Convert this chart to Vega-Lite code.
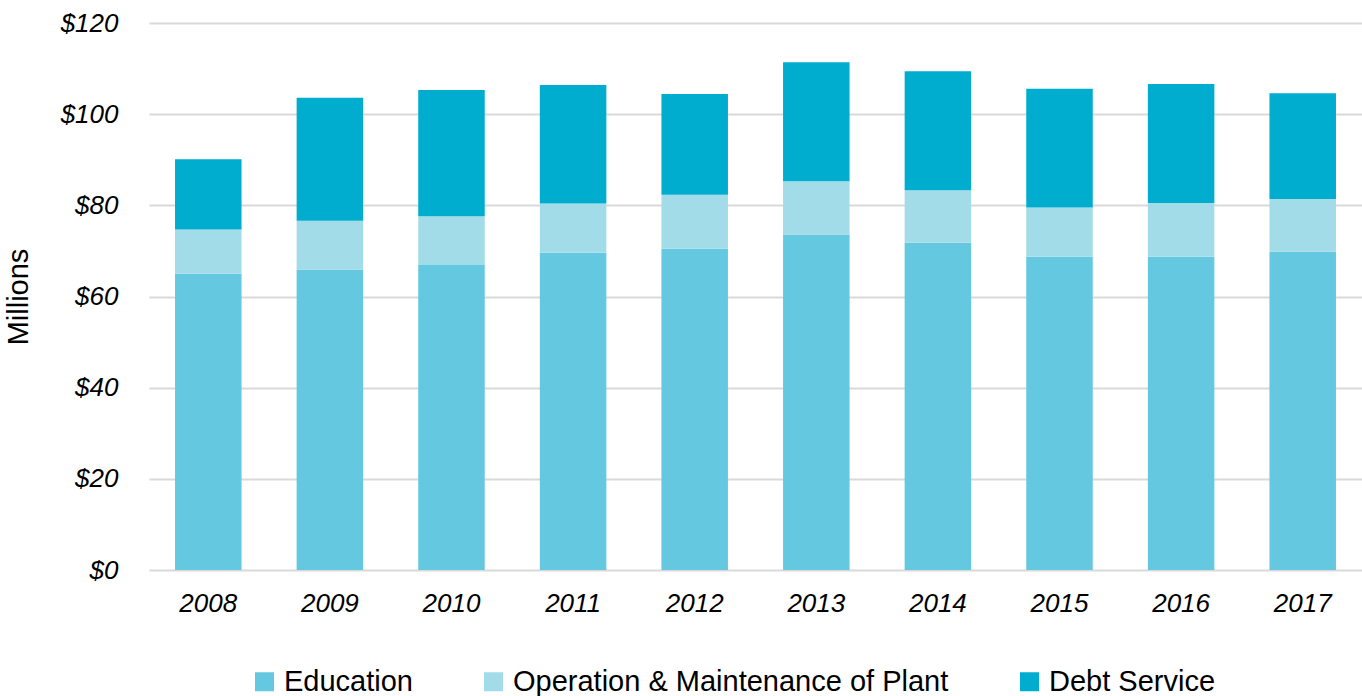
{
  "$schema": "https://vega.github.io/schema/vega-lite/v6.json",
  "width": 1213,
  "height": 547,
  "autosize": {"type": "none"},
  "padding": {"left": 149, "top": 23, "right": 0, "bottom": 126},
  "background": "white",
  "config": {
    "view": {"stroke": null},
    "font": "Liberation Sans"
  },
  "data": {
    "values": [
      {"year": "2008", "category": "Education", "k": 1, "value": 65.0},
      {"year": "2008", "category": "Operation & Maintenance of Plant", "k": 2, "value": 9.7},
      {"year": "2008", "category": "Debt Service", "k": 3, "value": 15.4},
      {"year": "2009", "category": "Education", "k": 1, "value": 65.9},
      {"year": "2009", "category": "Operation & Maintenance of Plant", "k": 2, "value": 10.7},
      {"year": "2009", "category": "Debt Service", "k": 3, "value": 27.0},
      {"year": "2010", "category": "Education", "k": 1, "value": 66.9},
      {"year": "2010", "category": "Operation & Maintenance of Plant", "k": 2, "value": 10.7},
      {"year": "2010", "category": "Debt Service", "k": 3, "value": 27.7},
      {"year": "2011", "category": "Education", "k": 1, "value": 69.6},
      {"year": "2011", "category": "Operation & Maintenance of Plant", "k": 2, "value": 10.8},
      {"year": "2011", "category": "Debt Service", "k": 3, "value": 26.0},
      {"year": "2012", "category": "Education", "k": 1, "value": 70.5},
      {"year": "2012", "category": "Operation & Maintenance of Plant", "k": 2, "value": 11.8},
      {"year": "2012", "category": "Debt Service", "k": 3, "value": 22.1},
      {"year": "2013", "category": "Education", "k": 1, "value": 73.6},
      {"year": "2013", "category": "Operation & Maintenance of Plant", "k": 2, "value": 11.7},
      {"year": "2013", "category": "Debt Service", "k": 3, "value": 26.1},
      {"year": "2014", "category": "Education", "k": 1, "value": 71.8},
      {"year": "2014", "category": "Operation & Maintenance of Plant", "k": 2, "value": 11.5},
      {"year": "2014", "category": "Debt Service", "k": 3, "value": 26.1},
      {"year": "2015", "category": "Education", "k": 1, "value": 68.7},
      {"year": "2015", "category": "Operation & Maintenance of Plant", "k": 2, "value": 10.8},
      {"year": "2015", "category": "Debt Service", "k": 3, "value": 26.1},
      {"year": "2016", "category": "Education", "k": 1, "value": 68.7},
      {"year": "2016", "category": "Operation & Maintenance of Plant", "k": 2, "value": 11.8},
      {"year": "2016", "category": "Debt Service", "k": 3, "value": 26.1},
      {"year": "2017", "category": "Education", "k": 1, "value": 69.8},
      {"year": "2017", "category": "Operation & Maintenance of Plant", "k": 2, "value": 11.6},
      {"year": "2017", "category": "Debt Service", "k": 3, "value": 23.2}
    ]
  },
  "mark": {"type": "bar"},
  "encoding": {
    "x": {
      "field": "year",
      "type": "nominal",
      "scale": {"paddingInner": 0.453, "paddingOuter": 0.214},
      "axis": {
        "title": null,
        "labelAngle": 0,
        "labelFont": "Liberation Sans",
        "labelFontStyle": "italic",
        "labelFontSize": 26,
        "labelColor": "#000000",
        "labelPadding": 20,
        "ticks": false,
        "domain": false,
        "grid": false
      }
    },
    "y": {
      "field": "value",
      "type": "quantitative",
      "stack": "zero",
      "scale": {"domain": [0, 120], "nice": false},
      "axis": {
        "title": "Millions",
        "titleFont": "Liberation Sans",
        "titleFontSize": 29,
        "titleFontWeight": "normal",
        "titleColor": "#000000",
        "titlePadding": 27,
        "values": [0, 20, 40, 60, 80, 100, 120],
        "format": "$.0f",
        "labelFont": "Liberation Sans",
        "labelFontStyle": "italic",
        "labelFontSize": 26,
        "labelColor": "#000000",
        "labelPadding": 31,
        "ticks": false,
        "domain": false,
        "grid": true,
        "gridColor": "#d9d9d9",
        "gridWidth": 2
      }
    },
    "color": {
      "field": "category",
      "type": "nominal",
      "scale": {
        "domain": ["Education", "Operation & Maintenance of Plant", "Debt Service"],
        "range": ["#64C9E0", "#A3DCE9", "#00ADCF"]
      },
      "legend": {
        "title": null,
        "orient": "none",
        "legendX": 101,
        "legendY": 644,
        "direction": "horizontal",
        "symbolType": "square",
        "symbolSize": 361,
        "symbolStrokeWidth": 0,
        "labelFont": "Liberation Sans",
        "labelFontSize": 29,
        "labelColor": "#000000",
        "labelOffset": 5,
        "columnPadding": 66,
        "labelLimit": 1000
      }
    },
    "order": {"field": "k", "type": "quantitative"}
  }
}
